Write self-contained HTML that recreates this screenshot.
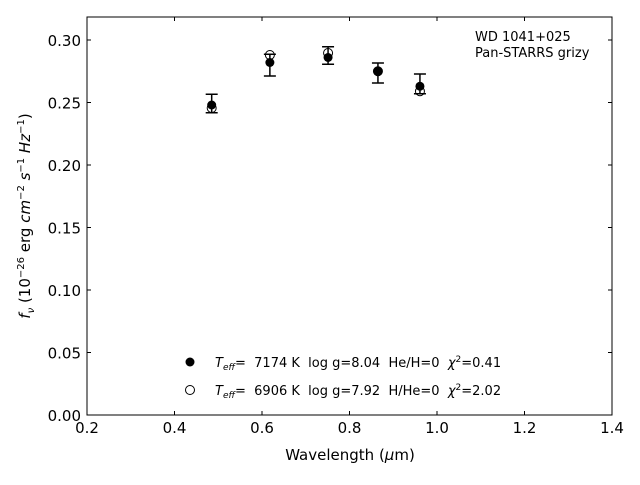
<!DOCTYPE html>
<html><head><meta charset="utf-8"><style>
body{margin:0;background:#fff}
svg text{font-family:"DejaVu Sans","Liberation Sans",sans-serif;fill:#000;white-space:pre}
</style></head><body>
<svg id="c" width="640" height="480" xml:space="preserve">
<rect x="87" y="17" width="525" height="398" fill="none" stroke="#000" stroke-width="1"/>
<g id="ticks"></g>
<g id="marks"></g>
<text x="350" y="460" text-anchor="middle" font-size="15">Wavelength (<tspan font-style="italic">μ</tspan>m)</text>
<text transform="translate(30,216) rotate(-90)" text-anchor="middle" font-size="15"><tspan font-style="italic">f<tspan font-size="10" dy="4">ν</tspan></tspan><tspan dy="-4"> (10</tspan><tspan font-size="10" dy="-6">−26</tspan><tspan dy="6"> erg </tspan><tspan font-style="italic">cm</tspan><tspan font-size="10" dy="-6">−2</tspan><tspan dy="6" font-style="italic"> s</tspan><tspan font-size="10" dy="-6">−1</tspan><tspan dy="6" font-style="italic"> Hz</tspan><tspan font-size="10" dy="-6">−1</tspan><tspan dy="6">)</tspan></text>
<text x="475" y="41" font-size="13">WD 1041+025</text>
<text x="475" y="57" font-size="13">Pan-STARRS grizy</text>
<g>
<circle cx="190" cy="362" r="4.5" fill="#000"/>
<text x="215" y="367" font-size="13"><tspan font-style="italic">T<tspan font-size="9" dy="3">eff</tspan></tspan><tspan dy="-3">=  7174 K  log g=8.04  He/H=0  </tspan><tspan font-style="italic">χ</tspan><tspan font-size="9" dy="-5">2</tspan><tspan dy="5">=0.41</tspan></text>
<circle cx="190" cy="390" r="4.5" fill="#fff" stroke="#000"/>
<text x="215" y="395" font-size="13"><tspan font-style="italic">T<tspan font-size="9" dy="3">eff</tspan></tspan><tspan dy="-3">=  6906 K  log g=7.92  H/He=0  </tspan><tspan font-style="italic">χ</tspan><tspan font-size="9" dy="-5">2</tspan><tspan dy="5">=2.02</tspan></text>
</g>
</svg>
<script>
const xTicks=[0.2,0.4,0.6,0.8,1.0,1.2,1.4];
const yTicks=[0.00,0.05,0.10,0.15,0.20,0.25,0.30];
const wavelengths=[0.485,0.618,0.751,0.865,0.961];
const fluxObs=[0.248,0.282,0.286,0.275,0.263];
const errHigh=[0.2566,0.2886,0.2946,0.2816,0.2728];
const errLow=[0.2418,0.2712,0.2806,0.2656,0.2570];
const fluxModel=[0.2456,0.288,0.2896,0.275,0.259];
const X=v=>87+(v-0.2)*437.5, Y=v=>415-v*1250;
const NS="http://www.w3.org/2000/svg";
function mk(p,t,a){const e=document.createElementNS(NS,t);for(const k in a)e.setAttribute(k,a[k]);p.appendChild(e);return e;}
const tg=document.getElementById('ticks'), mg=document.getElementById('marks');
xTicks.forEach(v=>{const x=X(v);
 const l=mk(tg,'line',{x1:x,x2:x,y1:415,y2:411,stroke:'#000'});
 
 
 const l2=mk(tg,'line',{x1:x,x2:x,y1:17,y2:21,stroke:'#000'});
 
 
 const t=mk(tg,'text',{x:x,y:433,'text-anchor':'middle','font-size':15});t.textContent=v.toFixed(1);
 
 
});
yTicks.forEach(v=>{const y=Y(v);
 const l=mk(tg,'line',{x1:87,x2:91,y1:y,y2:y,stroke:'#000'});
 
 
 const l2=mk(tg,'line',{x1:612,x2:608,y1:y,y2:y,stroke:'#000'});
 
 
 const t=mk(tg,'text',{x:81,y:y+6,'text-anchor':'end','font-size':15});t.textContent=v.toFixed(2);
 
 
});
wavelengths.forEach((w,i)=>{const x=X(w);
 const o=mk(mg,'circle',{cx:x,cy:Y(fluxModel[i]),r:4.5,fill:'#fff',stroke:'#000'});
 
 
 const g=mk(mg,'g',{stroke:'#000','stroke-width':1.5});
 
 
 mk(g,'line',{x1:x,x2:x,y1:Y(errHigh[i]),y2:Y(errLow[i])});
 mk(g,'line',{x1:x-6,x2:x+6,y1:Y(errHigh[i]),y2:Y(errHigh[i])});
 mk(g,'line',{x1:x-6,x2:x+6,y1:Y(errLow[i]),y2:Y(errLow[i])});
 const f=mk(mg,'circle',{cx:x,cy:Y(fluxObs[i]),r:4.5,fill:'#000'});
 
 
});
</script>
</body></html>
